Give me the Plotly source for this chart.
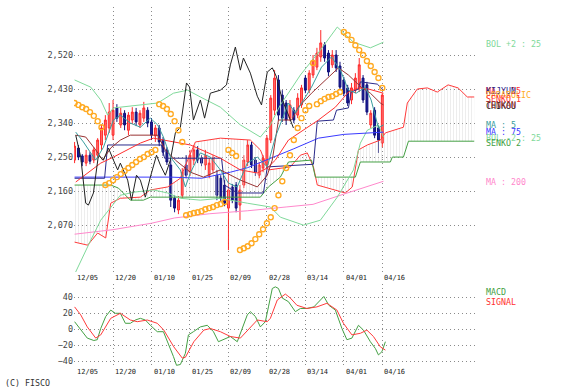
import plotly.graph_objects as go

# x positions are trading-day indices (0 = 12/05 ... 80 = 04/16)
date_labels = ["12/05", "12/20", "01/10", "01/25", "02/09", "02/28", "03/14", "04/01", "04/16"]
label_idx = [0, 10, 20, 30, 40, 50, 60, 70, 80]
price_ticks = [2070, 2160, 2250, 2340, 2430, 2520]
macd_ticks = [-40, -20, 0, 20, 40]

candle_x = list(range(81))
candle_open = [2242, 2274, 2253, 2234, 2255, 2242, 2255, 2282, 2308, 2327,
               2308, 2380, 2335, 2366, 2321, 2348, 2369, 2335, 2353, 2374,
               2343, 2306, 2327, 2295, 2269, 2229, 2141, 2110, 2149, 2229,
               2210, 2242, 2269, 2247, 2229, 2202, 2216, 2202, 2194, 2176,
               2115, 2171, 2176, 2123, 2176, 2237, 2282, 2242, 2202, 2221,
               2229, 2295, 2374, 2454, 2414, 2393, 2353, 2374, 2361, 2388,
               2459, 2427, 2467, 2488, 2515, 2547, 2525, 2494, 2520, 2491,
               2454, 2433, 2401, 2427, 2433, 2459, 2441, 2335, 2374, 2327,
               2287]
candle_high = [2290, 2282, 2258, 2269, 2263, 2276, 2300, 2335, 2361, 2393,
               2401, 2390, 2380, 2374, 2369, 2382, 2380, 2374, 2396, 2382,
               2353, 2335, 2335, 2303, 2276, 2242, 2149, 2147, 2221, 2255,
               2269, 2282, 2279, 2255, 2269, 2247, 2255, 2216, 2202, 2189,
               2208, 2179, 2184, 2176, 2255, 2295, 2290, 2250, 2237, 2255,
               2308, 2414, 2480, 2467, 2427, 2401, 2401, 2382, 2419, 2441,
               2467, 2480, 2520, 2539, 2586, 2554, 2533, 2533, 2533, 2502,
               2462, 2441, 2446, 2472, 2512, 2467, 2449, 2374, 2382, 2335,
               2419]
candle_low = [2234, 2242, 2226, 2226, 2231, 2234, 2247, 2269, 2295, 2314,
              2295, 2343, 2327, 2321, 2308, 2337, 2332, 2327, 2343, 2329,
              2295, 2290, 2279, 2253, 2229, 2118, 2104, 2099, 2141, 2194,
              2200, 2229, 2234, 2226, 2216, 2194, 2208, 2136, 2131, 2120,
              2004, 2128, 2104, 2083, 2168, 2226, 2221, 2200, 2194, 2210,
              2221, 2287, 2361, 2348, 2343, 2335, 2345, 2340, 2353, 2380,
              2419, 2419, 2459, 2480, 2502, 2502, 2464, 2486, 2475, 2427,
              2411, 2385, 2390, 2419, 2422, 2393, 2361, 2327, 2300, 2261,
              2276]
candle_close = [2279, 2250, 2237, 2255, 2239, 2269, 2295, 2327, 2348, 2369,
                2374, 2353, 2366, 2335, 2361, 2369, 2343, 2366, 2380, 2340,
                2308, 2327, 2290, 2263, 2237, 2136, 2115, 2136, 2210, 2202,
                2255, 2269, 2242, 2234, 2255, 2234, 2247, 2149, 2141, 2128,
                2163, 2136, 2115, 2163, 2242, 2282, 2229, 2210, 2229, 2247,
                2300, 2406, 2459, 2361, 2353, 2348, 2388, 2348, 2406, 2433,
                2427, 2472, 2507, 2525, 2552, 2512, 2475, 2520, 2486, 2435,
                2419, 2393, 2433, 2459, 2494, 2401, 2369, 2366, 2308, 2295,
                2414]

ma5_x = [0.3, 2.3, 4.2, 5.5, 7.5, 8.8, 10.1, 11.9, 14.5, 17.1, 19.7, 21.6, 23.1, 24.9, 27.5,
         28.8, 30.1, 32.7, 35.3, 37.9, 40.0, 42.3, 44.9, 47.5, 50.1, 52.2, 53.8, 55.6, 57.4,
         59.0, 61.6, 64.2, 66.8, 69.1, 71.2, 73.2, 75.6, 77.1, 79.0, 80.3]
ma5_v = [2316, 2290, 2261, 2242, 2276, 2314, 2348, 2361, 2340, 2329, 2353, 2335, 2303, 2250, 2216,
         2171, 2208, 2261, 2250, 2216, 2181, 2171, 2234, 2250, 2224, 2303, 2348, 2393, 2366,
         2393, 2435, 2488, 2515, 2480, 2427, 2419, 2435, 2401, 2327, 2335]

ma25_x = [0.3, 6.8, 10.1, 17.1, 20.5, 24.9, 30.1, 37.9, 43.1, 47.5, 50.1, 52.2, 55.6, 63.4,
          67.8, 71.2, 73.8, 76.4, 79.5, 80.3]
ma25_v = [2184, 2234, 2250, 2287, 2300, 2292, 2282, 2247, 2216, 2208, 2221, 2242, 2295, 2348,
          2382, 2422, 2433, 2430, 2422, 2419]

ma75_x = [0, 25, 33, 40.5, 45, 50.6, 57, 63.4, 70, 80.3]
ma75_v = [2197, 2197, 2194, 2210, 2222, 2245, 2272, 2300, 2310, 2316]

ma200_x = [0, 10, 20, 26, 35, 45, 55, 62, 70, 80.3]
ma200_v = [2046, 2058, 2075, 2089, 2100, 2108, 2118, 2125, 2152, 2186]

bol_up_x = [0, 4.2, 6.8, 8.6, 10.1, 15.3, 21.6, 25.7, 29.4, 32.7, 37.9, 43.1, 48.3, 50.9,
            53.5, 56.1, 58.7, 63.9, 68.3, 72.5, 76.9, 80.3]
bol_up_v = [2454, 2435, 2401, 2361, 2380, 2385, 2393, 2419, 2427, 2409, 2382, 2335, 2303, 2335,
            2388, 2427, 2467, 2533, 2594, 2554, 2539, 2554]

bol_dn_x = [0, 2.3, 4.2, 6.8, 9.4, 11.9, 15.3, 20.5, 24.2, 27.5, 32.7, 37.9, 44.9, 50.9,
            53.5, 59.5, 63.9, 68.3, 72.5, 74.3, 76.1, 79.0, 80.3]
bol_dn_v = [1940, 1991, 2030, 2083, 2118, 2149, 2157, 2163, 2155, 2141, 2136, 2141, 2128, 2118,
            2091, 2070, 2083, 2144, 2216, 2287, 2321, 2335, 2303]

senko1_x = [0, 3.4, 6.0, 8.1, 9.4, 11.9, 17.1, 19.7, 24.2, 27.5, 29.4, 31.4, 37.9, 45.7, 48.3,
            50.4, 56.1, 58.7, 60.5, 62.1, 63.1, 70.4, 72.2, 73.8, 76.1, 79.5, 80.8, 85.5,
            86.5, 89.1, 91.7, 94.3, 97.1, 99.7, 102.1, 103.9]
senko1_v = [2025, 2017, 2049, 2036, 2128, 2141, 2144, 2163, 2171, 2194, 2242, 2290, 2300, 2295, 2269,
            2216, 2224, 2255, 2261, 2224, 2176, 2155, 2171, 2269, 2282, 2295, 2314, 2329,
            2393, 2430, 2433, 2422, 2441, 2433, 2409, 2409]

senko2_x = [0, 9.4, 11.4, 14.5, 17.9, 19.7, 48.3, 50.4, 53.5, 55.6, 61.6, 62.6, 73.0, 74.3,
            82.1, 82.6, 85.5, 86.8, 103.9]
senko2_v = [2176, 2176, 2168, 2136, 2136, 2144, 2144, 2171, 2197, 2237, 2242, 2197, 2197, 2237,
            2237, 2250, 2250, 2292, 2292]

kijun_x = [0, 7.8, 8.6, 22.6, 23.4, 38.2, 39.0, 42.3, 49.1, 50.1, 62.1, 63.1, 67.3, 68.1,
           71.2, 71.9, 73.8, 74.3, 78.7, 80.3]
kijun_v = [2194, 2194, 2282, 2282, 2247, 2247, 2176, 2155, 2155, 2224, 2231, 2345, 2348, 2374,
           2380, 2422, 2430, 2449, 2443, 2427]

tenkan_x = [0.3, 2.9, 5.5, 7.3, 9.4, 11.9, 14.5, 21.6, 23.6, 26.2, 30.1, 33.5, 37.9, 43.1,
            47.5, 50.1, 51.4, 53.0, 56.4, 58.2, 61.6, 66.0, 68.6, 71.2, 74.5, 76.9, 79.5, 80.3]
tenkan_v = [2308, 2303, 2269, 2242, 2274, 2295, 2308, 2308, 2269, 2242, 2210, 2197, 2216, 2189,
            2171, 2202, 2242, 2348, 2348, 2382, 2419, 2462, 2486, 2467, 2435, 2419, 2393, 2388]

chikou_x = [0.3, 1.6, 2.9, 3.6, 4.9, 6.2, 7.5, 8.8, 10.1, 11.2, 11.9, 13.8, 14.8, 16.1, 17.1,
            18.4, 19.7, 21.3, 22.3, 23.6, 24.9, 26.2, 27.5, 29.1, 29.9, 30.9, 32.7, 33.8,
            35.3, 37.9, 39.5, 40.5, 41.8, 43.1, 43.9, 45.7, 47.5, 48.6, 50.1, 51.4, 52.5,
            54.0, 55.3, 56.9]
chikou_v = [2308, 2250, 2128, 2123, 2155, 2255, 2242, 2274, 2242, 2216, 2234, 2189, 2136, 2202, 2189,
            2144, 2197, 2255, 2229, 2202, 2242, 2314, 2329, 2446, 2435, 2348, 2401, 2353,
            2419, 2427, 2441, 2494, 2541, 2480, 2512, 2472, 2411, 2388, 2475, 2486, 2462,
            2401, 2369, 2327]

sar_x = list(range(81))
sar_v = [2393, 2388, 2382, 2377, 2369, 2359, 2345, 2329,
         2176, 2181, 2189, 2197, 2205, 2213, 2221, 2229, 2237, 2245, 2250, 2258, 2263, 2269,
         2390, 2385, 2377, 2364, 2345, 2321, 2290,
         2096, 2099, 2102, 2104, 2107, 2112, 2115, 2118, 2123, 2126, 2131,
         2269, 2261, 2253,
         2004, 2009, 2014, 2022, 2033, 2046, 2059, 2075, 2091, 2115, 2149, 2186, 2221, 2255,
         2295, 2327, 2353, 2374, 2385,
         2499,
         2390, 2398, 2404, 2409, 2411, 2417, 2422,
         2581, 2573, 2560, 2546, 2533, 2520, 2504, 2491, 2475, 2459, 2433]

macd_x = [0, 1.6, 3.3, 5.0, 5.9, 6.8, 8.1, 9.4, 10.6, 11.9, 13.2, 14.5, 15.8, 17.1, 18.4, 19.7,
          21.5, 23.1, 24.4, 25.7, 26.5, 27.5, 28.8, 29.6, 30.9, 32.7, 34.5, 36.1, 37.4, 38.7,
          40.5, 42.3, 43.6, 44.9, 45.7, 47.0, 48.3, 49.6, 50.4, 51.4, 52.2, 53.0, 54.0, 55.6,
          57.4, 58.7, 60.4, 62.2, 64.8, 66.1, 67.8, 69.5, 70.8, 72.1, 73.8, 75.1, 76.9, 78.2,
          79.0, 79.9, 80.8]
macd_v = [9.5, -1, -11, -14, -13, 1, 16, 24, 20, 20, 7.5, 7.5, 11.6, 13.7, 11.6, 5,
          -3, -3, -17.5, -34, -45, -44, -30, -7, -3, 3, 5, -3, -15.5, -13,
          -9, -15.5, 1, 18, 22, 16, 3, 9.5, 28, 51, 53, 51, 39, 34.5,
          22, 26, 26, 28, 41, 30, 24, 1, -13, -11, 5, -1, -15.5, -24,
          -32, -28, -15.5]
signal_x = [0, 1.6, 3.3, 5.5, 6.8, 9.4, 11.9, 14.5, 16.3, 18.9, 21.5, 23.2, 25.8, 28.0, 28.8,
            31.0, 33.6, 35.3, 37.9, 40.5, 43.1, 45.3, 47.5, 50.1, 50.9, 52.7, 54.8, 56.1, 57.8,
            60.4, 63.0, 65.6, 68.2, 69.9, 72.1, 74.3, 76.0, 77.7, 79.5, 80.8]
signal_v = [28, 18, 3, -11, -7, 13.7, 20, 11.6, 9.5, 11.6, 7.5, -1, -22, -36, -35,
            -15.5, -1, 1, -3, -9, -11, 1, 11.6, 9.5, 13.7, 36.6, 44, 39, 30,
            26, 28, 32.5, 24, 7.5, -7, -5, -1, -9, -22, -26]

# right-hand labels: (text, price position, colour)
right_labels = [
    ("BOL +2 : 25", 2549, "#7fd99a"),
    ("MA : 25", 2425, "#ff3030"),
    ("KIJYUN", 2425, "#2a2a8a"),
    ("PARABOLIC", 2413, "#ffaa22"),
    ("SENKO 1", 2403, "#ff3030"),
    ("CHIKOU", 2384, "#222222"),
    ("TENKAN", 2387, "#993333"),
    ("MA : 5", 2335, "#3a9e9e"),
    ("MA : 75", 2316, "#3a3aff"),
    ("BOL -2 : 25", 2301, "#7fd99a"),
    ("SENKO 2", 2287, "#44a044"),
    ("MA : 200", 2184, "#ff88cc"),
]
macd_labels = [("MACD", 46.5, "#44a044"), ("SIGNAL", 34, "#ff3030")]

MONO = "DejaVu Sans Mono"
fig = go.Figure()

# Ichimoku cloud
fig.add_trace(go.Scatter(x=senko1_x, y=senko1_v, mode="lines",
                         line=dict(color="#ff3b3b", width=1), hoverinfo="skip"))
fig.add_trace(go.Scatter(x=senko2_x, y=senko2_v, mode="lines", fill="tonexty",
                         fillcolor="rgba(255,255,255,0)",
                         fillpattern=dict(shape="|", size=3, solidity=0.25,
                                          fgcolor="#cfcfcf", bgcolor="rgba(255,255,255,0)"),
                         line=dict(color="#44a044", width=1), hoverinfo="skip"))

def line(x, y, color, width=1):
    fig.add_trace(go.Scatter(x=x, y=y, mode="lines", line=dict(color=color, width=width),
                             hoverinfo="skip"))

line(ma200_x, ma200_v, "#ff88cc")
line(bol_up_x, bol_up_v, "#7fd99a")
line(bol_dn_x, bol_dn_v, "#7fd99a")
line(ma75_x, ma75_v, "#3a3aff")
line(kijun_x, kijun_v, "#2a2a8a")
line(ma25_x, ma25_v, "#ff3030")
line(tenkan_x, tenkan_v, "#993333")
line(chikou_x, chikou_v, "#222222")

fig.add_trace(go.Candlestick(
    x=candle_x, open=candle_open, high=candle_high, low=candle_low, close=candle_close,
    increasing=dict(line=dict(color="#ff2a2a", width=1), fillcolor="#ff7070"),
    decreasing=dict(line=dict(color="#10107a", width=1), fillcolor="#1a1a99"),
    whiskerwidth=0, hoverinfo="skip"))

line(ma5_x, ma5_v, "#3a9e9e")

fig.add_trace(go.Scatter(x=sar_x, y=sar_v, mode="markers",
                         marker=dict(symbol="circle-open", size=5, color="#ffaa22",
                                     line=dict(width=1.4, color="#ffaa22")),
                         hoverinfo="skip"))

# MACD panel
fig.add_trace(go.Scatter(x=macd_x, y=macd_v, mode="lines", xaxis="x2", yaxis="y2",
                         line=dict(color="#44a044", width=1), hoverinfo="skip"))
fig.add_trace(go.Scatter(x=signal_x, y=signal_v, mode="lines", xaxis="x2", yaxis="y2",
                         line=dict(color="#ff3b3b", width=1), hoverinfo="skip"))

xr = [-0.15, 104.1]
grid = dict(showgrid=True, griddash="1px,3px", gridcolor="#8a8a8a", gridwidth=1,
            zeroline=False, showline=False, ticks="")
fig.update_layout(
    width=562, height=392, margin=dict(l=74, r=87, t=7, b=25),
    paper_bgcolor="white", plot_bgcolor="white", showlegend=False,
    font=dict(family=MONO, size=9, color="#333"),
    xaxis=dict(domain=[0, 1], anchor="y", range=xr, tickvals=label_idx,
               showticklabels=False, rangeslider=dict(visible=False), **grid),
    yaxis=dict(domain=[0.2639, 1], range=[1946, 2647], tickvals=price_ticks,
               ticktext=[f"{v:,}" for v in price_ticks],
               tickfont=dict(family=MONO, size=8.5, color="#444"), **grid),
    xaxis2=dict(domain=[0, 1], anchor="y2", range=xr, tickvals=label_idx,
                showticklabels=False, **grid),
    yaxis2=dict(domain=[0, 0.2306], range=[-47.1, 56.6], tickvals=macd_ticks,
                tickfont=dict(family=MONO, size=8.5, color="#444"), **grid),
)

ann = []
for idx, lab in zip(label_idx, date_labels):
    for yp in (0.247, -0.0139):
        ann.append(dict(x=idx, y=yp, xref="x", yref="paper", text=lab, showarrow=False,
                        xanchor="left", yanchor="middle",
                        font=dict(family=MONO, size=7, color="#222")))
for text, yv, col in right_labels:
    ann.append(dict(x=1.022, y=yv, xref="paper", yref="y", text=text, showarrow=False,
                    xanchor="left", yanchor="middle", font=dict(family=MONO, size=8.3, color=col)))
for text, yv, col in macd_labels:
    ann.append(dict(x=1.022, y=yv, xref="paper", yref="y2", text=text, showarrow=False,
                    xanchor="left", yanchor="middle", font=dict(family=MONO, size=8.3, color=col)))
ann.append(dict(x=-0.177, y=-0.045, xref="paper", yref="paper", text="(C) FISCO",
                showarrow=False, xanchor="left", yanchor="middle",
                font=dict(family=MONO, size=8.3, color="#333")))
fig.update_layout(annotations=ann)

fig.write_html("out.html", config={"displayModeBar": False, "staticPlot": True},
               post_script="document.body.style.margin='0';")
